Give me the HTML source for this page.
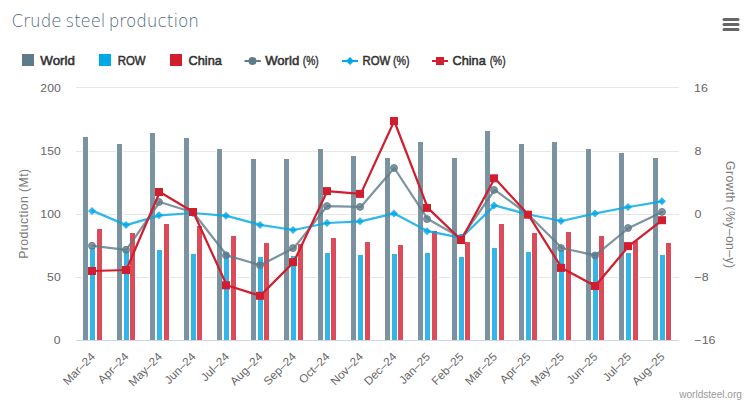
<!DOCTYPE html><html><head><meta charset="utf-8"><title>Crude steel production</title><style>
html,body{margin:0;padding:0;background:#fff;overflow:hidden;}
svg{display:block;font-family:"Liberation Sans",Arial,sans-serif;}
</style></head><body>
<svg width="756" height="403" viewBox="0 0 756 403">
<rect x="0" y="0" width="756" height="403" fill="#fff"/>
<text x="11.58" y="27" textLength="49.94" lengthAdjust="spacingAndGlyphs" style="font-size:18px;font-family:'DejaVu Sans',sans-serif;font-weight:200;fill:#4d6878">Crude</text>
<text x="65.57" y="27" textLength="39.85" lengthAdjust="spacingAndGlyphs" style="font-size:18px;font-family:'DejaVu Sans',sans-serif;font-weight:200;fill:#4d6878">steel</text>
<text x="108.66" y="27" textLength="90.38" lengthAdjust="spacingAndGlyphs" style="font-size:18px;font-family:'DejaVu Sans',sans-serif;font-weight:200;fill:#4d6878">production</text>
<g stroke="#666" stroke-width="3" stroke-linecap="round">
<line x1="724" y1="19.5" x2="738" y2="19.5"/>
<line x1="724" y1="24.5" x2="738" y2="24.5"/>
<line x1="724" y1="29.5" x2="738" y2="29.5"/>
</g>
<rect x="22" y="54" width="12" height="12" fill="#5e7b8a"/>
<rect x="99" y="54" width="12" height="12" fill="#00a8e6"/>
<rect x="170" y="54" width="12" height="12" fill="#d11f2f"/>
<line x1="244.5" y1="61" x2="260.8" y2="61" stroke="#5e7b8a" stroke-width="2"/><circle cx="252.5" cy="61" r="4" fill="#5e7b8a"/>
<line x1="342" y1="61" x2="358" y2="61" stroke="#00a8e6" stroke-width="2"/><path d="M350 57 L354 61 L350 65 L346 61 Z" fill="#00a8e6"/>
<line x1="432" y1="61" x2="448" y2="61" stroke="#d11f2f" stroke-width="2"/><rect x="436" y="57" width="8" height="8" fill="#d11f2f"/>
<text x="40.33" y="65" textLength="34.58" lengthAdjust="spacingAndGlyphs" style="font-size:13px;fill:#333;stroke:#333;stroke-width:0.55">World</text>
<text x="117.69" y="65" textLength="27.86" lengthAdjust="spacingAndGlyphs" style="font-size:13px;fill:#333;stroke:#333;stroke-width:0.55">ROW</text>
<text x="188.56" y="65" textLength="33.27" lengthAdjust="spacingAndGlyphs" style="font-size:13px;fill:#333;stroke:#333;stroke-width:0.55">China</text>
<text x="265.23" y="65" textLength="33.96" lengthAdjust="spacingAndGlyphs" style="font-size:13px;fill:#333;stroke:#333;stroke-width:0.55">World</text>
<text x="362.49" y="65" textLength="27.86" lengthAdjust="spacingAndGlyphs" style="font-size:13px;fill:#333;stroke:#333;stroke-width:0.55">ROW</text>
<text x="452.46" y="65" textLength="33.27" lengthAdjust="spacingAndGlyphs" style="font-size:13px;fill:#333;stroke:#333;stroke-width:0.55">China</text>
<text x="302.78" y="65" textLength="15.99" lengthAdjust="spacingAndGlyphs" style="font-size:12.5px;fill:#333;stroke:#333;stroke-width:0.4">(%)</text>
<text x="393.06" y="65" textLength="16.64" lengthAdjust="spacingAndGlyphs" style="font-size:12.5px;fill:#333;stroke:#333;stroke-width:0.4">(%)</text>
<text x="489.69" y="65" textLength="15.88" lengthAdjust="spacingAndGlyphs" style="font-size:12.5px;fill:#333;stroke:#333;stroke-width:0.4">(%)</text>
<rect x="76" y="87" width="603" height="1" fill="#e6e6e6" shape-rendering="crispEdges"/>
<rect x="76" y="151" width="603" height="1" fill="#e6e6e6" shape-rendering="crispEdges"/>
<rect x="76" y="214" width="603" height="1" fill="#e6e6e6" shape-rendering="crispEdges"/>
<rect x="76" y="277" width="603" height="1" fill="#e6e6e6" shape-rendering="crispEdges"/>
<text x="40.39" y="92" textLength="20.28" lengthAdjust="spacingAndGlyphs" style="font-size:11.5px;fill:#666">200</text>
<text x="40.39" y="155" textLength="20.28" lengthAdjust="spacingAndGlyphs" style="font-size:11.5px;fill:#666">150</text>
<text x="40.39" y="218" textLength="20.28" lengthAdjust="spacingAndGlyphs" style="font-size:11.5px;fill:#666">100</text>
<text x="47.14" y="281" textLength="13.52" lengthAdjust="spacingAndGlyphs" style="font-size:11.5px;fill:#666">50</text>
<text x="53.88" y="344" textLength="6.76" lengthAdjust="spacingAndGlyphs" style="font-size:11.5px;fill:#666">0</text>
<text x="694.07" y="92" textLength="13.86" lengthAdjust="spacingAndGlyphs" style="font-size:11.5px;fill:#666">16</text>
<text x="694.44" y="155" textLength="6.93" lengthAdjust="spacingAndGlyphs" style="font-size:11.5px;fill:#666">8</text>
<text x="694.50" y="218" textLength="6.93" lengthAdjust="spacingAndGlyphs" style="font-size:11.5px;fill:#666">0</text>
<text x="694.38" y="281" textLength="14.21" lengthAdjust="spacingAndGlyphs" style="font-size:11.5px;fill:#666">−8</text>
<text x="694.38" y="344" textLength="21.14" lengthAdjust="spacingAndGlyphs" style="font-size:11.5px;fill:#666">−16</text>
<text transform="translate(28,258.85) rotate(-90)" textLength="89.95" lengthAdjust="spacing" style="font-size:12.2px;fill:#7a7a7a">Production (Mt)</text>
<text transform="translate(726,161.05) rotate(90)" textLength="106.93" lengthAdjust="spacing" style="font-size:12.2px;fill:#7a7a7a">Growth (%y–on–y)</text>
<g shape-rendering="crispEdges">
<rect x="82" y="136" width="7" height="204" fill="#fff"/>
<rect x="89" y="247" width="7" height="93" fill="#fff"/>
<rect x="96" y="228" width="7" height="112" fill="#fff"/>
<rect x="116" y="143" width="7" height="197" fill="#fff"/>
<rect x="123" y="250" width="7" height="90" fill="#fff"/>
<rect x="129" y="232" width="7" height="108" fill="#fff"/>
<rect x="149" y="132" width="7" height="208" fill="#fff"/>
<rect x="156" y="249" width="7" height="91" fill="#fff"/>
<rect x="163" y="223" width="7" height="117" fill="#fff"/>
<rect x="183" y="137" width="7" height="203" fill="#fff"/>
<rect x="190" y="253" width="7" height="87" fill="#fff"/>
<rect x="196" y="225" width="7" height="115" fill="#fff"/>
<rect x="216" y="148" width="7" height="192" fill="#fff"/>
<rect x="223" y="252" width="7" height="88" fill="#fff"/>
<rect x="230" y="235" width="7" height="105" fill="#fff"/>
<rect x="250" y="158" width="7" height="182" fill="#fff"/>
<rect x="257" y="256" width="7" height="84" fill="#fff"/>
<rect x="263" y="242" width="7" height="98" fill="#fff"/>
<rect x="283" y="158" width="7" height="182" fill="#fff"/>
<rect x="290" y="255" width="7" height="85" fill="#fff"/>
<rect x="297" y="243" width="7" height="97" fill="#fff"/>
<rect x="317" y="148" width="7" height="192" fill="#fff"/>
<rect x="324" y="252" width="7" height="88" fill="#fff"/>
<rect x="330" y="237" width="7" height="103" fill="#fff"/>
<rect x="350" y="155" width="7" height="185" fill="#fff"/>
<rect x="357" y="254" width="7" height="86" fill="#fff"/>
<rect x="364" y="241" width="7" height="99" fill="#fff"/>
<rect x="384" y="157" width="7" height="183" fill="#fff"/>
<rect x="391" y="253" width="7" height="87" fill="#fff"/>
<rect x="397" y="244" width="7" height="96" fill="#fff"/>
<rect x="417" y="141" width="7" height="199" fill="#fff"/>
<rect x="424" y="252" width="7" height="88" fill="#fff"/>
<rect x="431" y="230" width="7" height="110" fill="#fff"/>
<rect x="451" y="157" width="7" height="183" fill="#fff"/>
<rect x="458" y="256" width="7" height="84" fill="#fff"/>
<rect x="464" y="241" width="7" height="99" fill="#fff"/>
<rect x="484" y="130" width="7" height="210" fill="#fff"/>
<rect x="491" y="247" width="7" height="93" fill="#fff"/>
<rect x="498" y="223" width="7" height="117" fill="#fff"/>
<rect x="518" y="143" width="7" height="197" fill="#fff"/>
<rect x="525" y="251" width="7" height="89" fill="#fff"/>
<rect x="531" y="232" width="7" height="108" fill="#fff"/>
<rect x="551" y="141" width="7" height="199" fill="#fff"/>
<rect x="558" y="249" width="7" height="91" fill="#fff"/>
<rect x="565" y="231" width="7" height="109" fill="#fff"/>
<rect x="585" y="148" width="7" height="192" fill="#fff"/>
<rect x="592" y="252" width="7" height="88" fill="#fff"/>
<rect x="598" y="235" width="7" height="105" fill="#fff"/>
<rect x="618" y="152" width="7" height="188" fill="#fff"/>
<rect x="625" y="252" width="7" height="88" fill="#fff"/>
<rect x="632" y="240" width="7" height="100" fill="#fff"/>
<rect x="652" y="157" width="7" height="183" fill="#fff"/>
<rect x="659" y="254" width="7" height="86" fill="#fff"/>
<rect x="665" y="242" width="7" height="98" fill="#fff"/>
<rect x="83" y="137" width="5" height="203" fill="#7b93a0"/>
<rect x="90" y="248" width="5" height="92" fill="#33b5e8"/>
<rect x="97" y="229" width="5" height="111" fill="#da4c59"/>
<rect x="117" y="144" width="5" height="196" fill="#7b93a0"/>
<rect x="124" y="251" width="5" height="89" fill="#33b5e8"/>
<rect x="130" y="233" width="5" height="107" fill="#da4c59"/>
<rect x="150" y="133" width="5" height="207" fill="#7b93a0"/>
<rect x="157" y="250" width="5" height="90" fill="#33b5e8"/>
<rect x="164" y="224" width="5" height="116" fill="#da4c59"/>
<rect x="184" y="138" width="5" height="202" fill="#7b93a0"/>
<rect x="191" y="254" width="5" height="86" fill="#33b5e8"/>
<rect x="197" y="226" width="5" height="114" fill="#da4c59"/>
<rect x="217" y="149" width="5" height="191" fill="#7b93a0"/>
<rect x="224" y="253" width="5" height="87" fill="#33b5e8"/>
<rect x="231" y="236" width="5" height="104" fill="#da4c59"/>
<rect x="251" y="159" width="5" height="181" fill="#7b93a0"/>
<rect x="258" y="257" width="5" height="83" fill="#33b5e8"/>
<rect x="264" y="243" width="5" height="97" fill="#da4c59"/>
<rect x="284" y="159" width="5" height="181" fill="#7b93a0"/>
<rect x="291" y="256" width="5" height="84" fill="#33b5e8"/>
<rect x="298" y="244" width="5" height="96" fill="#da4c59"/>
<rect x="318" y="149" width="5" height="191" fill="#7b93a0"/>
<rect x="325" y="253" width="5" height="87" fill="#33b5e8"/>
<rect x="331" y="238" width="5" height="102" fill="#da4c59"/>
<rect x="351" y="156" width="5" height="184" fill="#7b93a0"/>
<rect x="358" y="255" width="5" height="85" fill="#33b5e8"/>
<rect x="365" y="242" width="5" height="98" fill="#da4c59"/>
<rect x="385" y="158" width="5" height="182" fill="#7b93a0"/>
<rect x="392" y="254" width="5" height="86" fill="#33b5e8"/>
<rect x="398" y="245" width="5" height="95" fill="#da4c59"/>
<rect x="418" y="142" width="5" height="198" fill="#7b93a0"/>
<rect x="425" y="253" width="5" height="87" fill="#33b5e8"/>
<rect x="432" y="231" width="5" height="109" fill="#da4c59"/>
<rect x="452" y="158" width="5" height="182" fill="#7b93a0"/>
<rect x="459" y="257" width="5" height="83" fill="#33b5e8"/>
<rect x="465" y="242" width="5" height="98" fill="#da4c59"/>
<rect x="485" y="131" width="5" height="209" fill="#7b93a0"/>
<rect x="492" y="248" width="5" height="92" fill="#33b5e8"/>
<rect x="499" y="224" width="5" height="116" fill="#da4c59"/>
<rect x="519" y="144" width="5" height="196" fill="#7b93a0"/>
<rect x="526" y="252" width="5" height="88" fill="#33b5e8"/>
<rect x="532" y="233" width="5" height="107" fill="#da4c59"/>
<rect x="552" y="142" width="5" height="198" fill="#7b93a0"/>
<rect x="559" y="250" width="5" height="90" fill="#33b5e8"/>
<rect x="566" y="232" width="5" height="108" fill="#da4c59"/>
<rect x="586" y="149" width="5" height="191" fill="#7b93a0"/>
<rect x="593" y="253" width="5" height="87" fill="#33b5e8"/>
<rect x="599" y="236" width="5" height="104" fill="#da4c59"/>
<rect x="619" y="153" width="5" height="187" fill="#7b93a0"/>
<rect x="626" y="253" width="5" height="87" fill="#33b5e8"/>
<rect x="633" y="241" width="5" height="99" fill="#da4c59"/>
<rect x="653" y="158" width="5" height="182" fill="#7b93a0"/>
<rect x="660" y="255" width="5" height="85" fill="#33b5e8"/>
<rect x="666" y="243" width="5" height="97" fill="#da4c59"/>
</g>
<rect x="76" y="340" width="603" height="1" fill="#ccd6eb" shape-rendering="crispEdges"/>
<polyline points="92.75,245.80 126.25,249.80 159.75,202.00 193.25,212.50 226.75,255.30 260.25,265.20 293.75,248.10 327.25,206.10 360.75,206.90 394.25,168.00 427.75,219.10 461.25,238.00 494.75,189.90 528.25,214.50 561.75,248.00 595.25,255.40 628.75,228.00 662.25,211.90" fill="none" stroke="rgba(94,123,138,0.8)" stroke-width="2.25" stroke-linejoin="round" stroke-linecap="round"/>
<circle cx="92" cy="245.80" r="3.5" fill="rgba(94,123,138,0.8)" stroke="rgba(94,123,138,0.8)" stroke-width="1"/>
<circle cx="126" cy="249.80" r="3.5" fill="rgba(94,123,138,0.8)" stroke="rgba(94,123,138,0.8)" stroke-width="1"/>
<circle cx="159" cy="202.00" r="3.5" fill="rgba(94,123,138,0.8)" stroke="rgba(94,123,138,0.8)" stroke-width="1"/>
<circle cx="193" cy="212.50" r="3.5" fill="rgba(94,123,138,0.8)" stroke="rgba(94,123,138,0.8)" stroke-width="1"/>
<circle cx="226" cy="255.30" r="3.5" fill="rgba(94,123,138,0.8)" stroke="rgba(94,123,138,0.8)" stroke-width="1"/>
<circle cx="260" cy="265.20" r="3.5" fill="rgba(94,123,138,0.8)" stroke="rgba(94,123,138,0.8)" stroke-width="1"/>
<circle cx="293" cy="248.10" r="3.5" fill="rgba(94,123,138,0.8)" stroke="rgba(94,123,138,0.8)" stroke-width="1"/>
<circle cx="327" cy="206.10" r="3.5" fill="rgba(94,123,138,0.8)" stroke="rgba(94,123,138,0.8)" stroke-width="1"/>
<circle cx="360" cy="206.90" r="3.5" fill="rgba(94,123,138,0.8)" stroke="rgba(94,123,138,0.8)" stroke-width="1"/>
<circle cx="394" cy="168.00" r="3.5" fill="rgba(94,123,138,0.8)" stroke="rgba(94,123,138,0.8)" stroke-width="1"/>
<circle cx="427" cy="219.10" r="3.5" fill="rgba(94,123,138,0.8)" stroke="rgba(94,123,138,0.8)" stroke-width="1"/>
<circle cx="461" cy="238.00" r="3.5" fill="rgba(94,123,138,0.8)" stroke="rgba(94,123,138,0.8)" stroke-width="1"/>
<circle cx="494" cy="189.90" r="3.5" fill="rgba(94,123,138,0.8)" stroke="rgba(94,123,138,0.8)" stroke-width="1"/>
<circle cx="528" cy="214.50" r="3.5" fill="rgba(94,123,138,0.8)" stroke="rgba(94,123,138,0.8)" stroke-width="1"/>
<circle cx="561" cy="248.00" r="3.5" fill="rgba(94,123,138,0.8)" stroke="rgba(94,123,138,0.8)" stroke-width="1"/>
<circle cx="595" cy="255.40" r="3.5" fill="rgba(94,123,138,0.8)" stroke="rgba(94,123,138,0.8)" stroke-width="1"/>
<circle cx="628" cy="228.00" r="3.5" fill="rgba(94,123,138,0.8)" stroke="rgba(94,123,138,0.8)" stroke-width="1"/>
<circle cx="662" cy="211.90" r="3.5" fill="rgba(94,123,138,0.8)" stroke="rgba(94,123,138,0.8)" stroke-width="1"/>
<polyline points="92.75,210.90 126.25,225.10 159.75,215.30 193.25,213.00 226.75,215.80 260.25,224.90 293.75,230.00 327.25,223.00 360.75,221.30 394.25,213.40 427.75,231.20 461.25,237.80 494.75,205.40 528.25,214.50 561.75,221.00 595.25,213.40 628.75,207.00 662.25,201.30" fill="none" stroke="rgba(0,168,230,0.82)" stroke-width="2.25" stroke-linejoin="round" stroke-linecap="round"/>
<path d="M92.00 206.90 L96.00 210.90 L92.00 214.90 L88.00 210.90 Z" fill="rgba(0,168,230,0.82)"/>
<path d="M126.00 221.10 L130.00 225.10 L126.00 229.10 L122.00 225.10 Z" fill="rgba(0,168,230,0.82)"/>
<path d="M159.00 211.30 L163.00 215.30 L159.00 219.30 L155.00 215.30 Z" fill="rgba(0,168,230,0.82)"/>
<path d="M193.00 209.00 L197.00 213.00 L193.00 217.00 L189.00 213.00 Z" fill="rgba(0,168,230,0.82)"/>
<path d="M226.00 211.80 L230.00 215.80 L226.00 219.80 L222.00 215.80 Z" fill="rgba(0,168,230,0.82)"/>
<path d="M260.00 220.90 L264.00 224.90 L260.00 228.90 L256.00 224.90 Z" fill="rgba(0,168,230,0.82)"/>
<path d="M293.00 226.00 L297.00 230.00 L293.00 234.00 L289.00 230.00 Z" fill="rgba(0,168,230,0.82)"/>
<path d="M327.00 219.00 L331.00 223.00 L327.00 227.00 L323.00 223.00 Z" fill="rgba(0,168,230,0.82)"/>
<path d="M360.00 217.30 L364.00 221.30 L360.00 225.30 L356.00 221.30 Z" fill="rgba(0,168,230,0.82)"/>
<path d="M394.00 209.40 L398.00 213.40 L394.00 217.40 L390.00 213.40 Z" fill="rgba(0,168,230,0.82)"/>
<path d="M427.00 227.20 L431.00 231.20 L427.00 235.20 L423.00 231.20 Z" fill="rgba(0,168,230,0.82)"/>
<path d="M461.00 233.80 L465.00 237.80 L461.00 241.80 L457.00 237.80 Z" fill="rgba(0,168,230,0.82)"/>
<path d="M494.00 201.40 L498.00 205.40 L494.00 209.40 L490.00 205.40 Z" fill="rgba(0,168,230,0.82)"/>
<path d="M528.00 210.50 L532.00 214.50 L528.00 218.50 L524.00 214.50 Z" fill="rgba(0,168,230,0.82)"/>
<path d="M561.00 217.00 L565.00 221.00 L561.00 225.00 L557.00 221.00 Z" fill="rgba(0,168,230,0.82)"/>
<path d="M595.00 209.40 L599.00 213.40 L595.00 217.40 L591.00 213.40 Z" fill="rgba(0,168,230,0.82)"/>
<path d="M628.00 203.00 L632.00 207.00 L628.00 211.00 L624.00 207.00 Z" fill="rgba(0,168,230,0.82)"/>
<path d="M662.00 197.30 L666.00 201.30 L662.00 205.30 L658.00 201.30 Z" fill="rgba(0,168,230,0.82)"/>
<polyline points="92.75,271.00 126.25,270.00 159.75,192.00 193.25,212.00 226.75,285.30 260.25,295.80 293.75,262.10 327.25,191.10 360.75,193.90 394.25,121.00 427.75,207.90 461.25,240.00 494.75,178.30 528.25,214.70 561.75,267.90 595.25,286.00 628.75,246.10 662.25,220.20" fill="none" stroke="#d11e2e" stroke-width="2.25" stroke-linejoin="round" stroke-linecap="round"/>
<rect x="88.00" y="267.00" width="8" height="8" fill="#d11e2e"/>
<rect x="122.00" y="266.00" width="8" height="8" fill="#d11e2e"/>
<rect x="155.00" y="188.00" width="8" height="8" fill="#d11e2e"/>
<rect x="189.00" y="208.00" width="8" height="8" fill="#d11e2e"/>
<rect x="222.00" y="281.30" width="8" height="8" fill="#d11e2e"/>
<rect x="256.00" y="291.80" width="8" height="8" fill="#d11e2e"/>
<rect x="289.00" y="258.10" width="8" height="8" fill="#d11e2e"/>
<rect x="323.00" y="187.10" width="8" height="8" fill="#d11e2e"/>
<rect x="356.00" y="189.90" width="8" height="8" fill="#d11e2e"/>
<rect x="390.00" y="117.00" width="8" height="8" fill="#d11e2e"/>
<rect x="423.00" y="203.90" width="8" height="8" fill="#d11e2e"/>
<rect x="457.00" y="236.00" width="8" height="8" fill="#d11e2e"/>
<rect x="490.00" y="174.30" width="8" height="8" fill="#d11e2e"/>
<rect x="524.00" y="210.70" width="8" height="8" fill="#d11e2e"/>
<rect x="557.00" y="263.90" width="8" height="8" fill="#d11e2e"/>
<rect x="591.00" y="282.00" width="8" height="8" fill="#d11e2e"/>
<rect x="624.00" y="242.10" width="8" height="8" fill="#d11e2e"/>
<rect x="658.00" y="216.20" width="8" height="8" fill="#d11e2e"/>
<text transform="translate(95.85,357.5) rotate(-45)" text-anchor="end" textLength="39.80" lengthAdjust="spacingAndGlyphs" style="font-size:11.5px;fill:#666">Mar–24</text>
<text transform="translate(129.35,357.5) rotate(-45)" text-anchor="end" textLength="37.85" lengthAdjust="spacingAndGlyphs" style="font-size:11.5px;fill:#666">Apr–24</text>
<text transform="translate(162.85,357.5) rotate(-45)" text-anchor="end" textLength="41.76" lengthAdjust="spacingAndGlyphs" style="font-size:11.5px;fill:#666">May–24</text>
<text transform="translate(196.35,357.5) rotate(-45)" text-anchor="end" textLength="38.51" lengthAdjust="spacingAndGlyphs" style="font-size:11.5px;fill:#666">Jun–24</text>
<text transform="translate(229.85,357.5) rotate(-45)" text-anchor="end" textLength="34.59" lengthAdjust="spacingAndGlyphs" style="font-size:11.5px;fill:#666">Jul–24</text>
<text transform="translate(263.35,357.5) rotate(-45)" text-anchor="end" textLength="40.47" lengthAdjust="spacingAndGlyphs" style="font-size:11.5px;fill:#666">Aug–24</text>
<text transform="translate(296.85,357.5) rotate(-45)" text-anchor="end" textLength="40.47" lengthAdjust="spacingAndGlyphs" style="font-size:11.5px;fill:#666">Sep–24</text>
<text transform="translate(330.35,357.5) rotate(-45)" text-anchor="end" textLength="37.84" lengthAdjust="spacingAndGlyphs" style="font-size:11.5px;fill:#666">Oct–24</text>
<text transform="translate(363.85,357.5) rotate(-45)" text-anchor="end" textLength="40.46" lengthAdjust="spacingAndGlyphs" style="font-size:11.5px;fill:#666">Nov–24</text>
<text transform="translate(397.35,357.5) rotate(-45)" text-anchor="end" textLength="40.46" lengthAdjust="spacingAndGlyphs" style="font-size:11.5px;fill:#666">Dec–24</text>
<text transform="translate(430.85,357.5) rotate(-45)" text-anchor="end" textLength="38.51" lengthAdjust="spacingAndGlyphs" style="font-size:11.5px;fill:#666">Jan–25</text>
<text transform="translate(464.35,357.5) rotate(-45)" text-anchor="end" textLength="39.81" lengthAdjust="spacingAndGlyphs" style="font-size:11.5px;fill:#666">Feb–25</text>
<text transform="translate(497.85,357.5) rotate(-45)" text-anchor="end" textLength="39.80" lengthAdjust="spacingAndGlyphs" style="font-size:11.5px;fill:#666">Mar–25</text>
<text transform="translate(531.35,357.5) rotate(-45)" text-anchor="end" textLength="37.85" lengthAdjust="spacingAndGlyphs" style="font-size:11.5px;fill:#666">Apr–25</text>
<text transform="translate(564.85,357.5) rotate(-45)" text-anchor="end" textLength="41.76" lengthAdjust="spacingAndGlyphs" style="font-size:11.5px;fill:#666">May–25</text>
<text transform="translate(598.35,357.5) rotate(-45)" text-anchor="end" textLength="38.51" lengthAdjust="spacingAndGlyphs" style="font-size:11.5px;fill:#666">Jun–25</text>
<text transform="translate(631.85,357.5) rotate(-45)" text-anchor="end" textLength="34.59" lengthAdjust="spacingAndGlyphs" style="font-size:11.5px;fill:#666">Jul–25</text>
<text transform="translate(665.35,357.5) rotate(-45)" text-anchor="end" textLength="40.47" lengthAdjust="spacingAndGlyphs" style="font-size:11.5px;fill:#666">Aug–25</text>
<text x="679.20" y="398" textLength="62.76" lengthAdjust="spacingAndGlyphs" style="font-size:10px;fill:#999">worldsteel.org</text>
</svg></body></html>
